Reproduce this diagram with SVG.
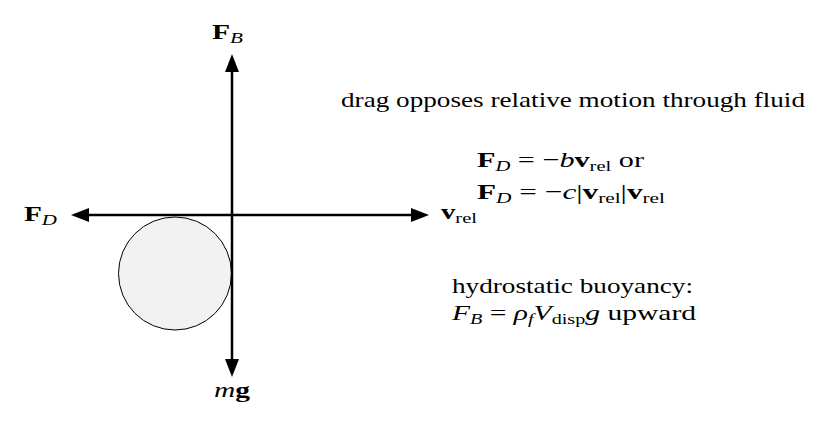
<svg xmlns="http://www.w3.org/2000/svg" width="828" height="429" viewBox="0 0 828 429">
<style>
text{font-family:"Liberation Serif","DejaVu Serif",serif;fill:#000}
.lbl{font-size:21px}
.body{font-size:22px}
.b{font-weight:bold;font-style:normal}
.i{font-style:italic}
.sub{font-size:15px}
.axis{stroke:#000;stroke-width:2.5;fill:none}
</style>
<defs>
<marker id="ah" markerUnits="userSpaceOnUse" markerWidth="20" markerHeight="16" viewBox="0 -8 18 16" refX="0" refY="0" orient="auto-start-reverse">
<path d="M0,-7 L18,0 L0,7 z" fill="#000"/>
</marker>
</defs>
<rect width="828" height="429" fill="#fff"/>
<g id="body">
<circle cx="175" cy="273.5" r="56.5" fill="#f2f2f2" stroke="#000" stroke-width="1"/>
</g>
<g id="connectors">
<line class="axis" x1="89" y1="215" x2="411" y2="215" marker-start="url(#ah)" marker-end="url(#ah)"/>
<line class="axis" x1="232" y1="72" x2="232" y2="359" marker-start="url(#ah)" marker-end="url(#ah)"/>
</g>
<g id="label-FB">
<text class="lbl" x="212" y="39" textLength="31" lengthAdjust="spacingAndGlyphs"><tspan class="b">F</tspan><tspan class="i sub" dy="4">B</tspan></text>
</g>
<g id="label-FD">
<text class="lbl" x="24" y="221" textLength="33" lengthAdjust="spacingAndGlyphs"><tspan class="b">F</tspan><tspan class="i sub" dy="4">D</tspan></text>
</g>
<g id="label-vrel">
<text class="lbl" x="441" y="219" textLength="36" lengthAdjust="spacingAndGlyphs"><tspan class="b">v</tspan><tspan class="sub" dy="4">rel</tspan></text>
</g>
<g id="label-mg">
<text class="lbl" x="214" y="397" textLength="36" lengthAdjust="spacingAndGlyphs"><tspan class="i">m</tspan><tspan class="b">g</tspan></text>
</g>
<g id="note-drag">
<text class="body" x="341" y="107" textLength="464" lengthAdjust="spacingAndGlyphs">drag opposes relative motion through fluid</text>
<text class="body" x="477" y="167" textLength="167" lengthAdjust="spacingAndGlyphs"><tspan class="b">F</tspan><tspan class="i sub" dy="4">D</tspan><tspan dy="-4"> = −</tspan><tspan class="i">b</tspan><tspan class="b">v</tspan><tspan class="sub" dy="4">rel</tspan><tspan dy="-4"> or</tspan></text>
<text class="body" x="477" y="199" textLength="188" lengthAdjust="spacingAndGlyphs"><tspan class="b">F</tspan><tspan class="i sub" dy="4">D</tspan><tspan dy="-4"> = −</tspan><tspan class="i">c</tspan><tspan>|</tspan><tspan class="b">v</tspan><tspan class="sub" dy="4">rel</tspan><tspan dy="-4">|</tspan><tspan class="b">v</tspan><tspan class="sub" dy="4">rel</tspan></text>
</g>
<g id="note-buoyancy">
<text class="body" x="452" y="293" textLength="241" lengthAdjust="spacingAndGlyphs">hydrostatic buoyancy:</text>
<text class="body" x="452" y="320" textLength="244" lengthAdjust="spacingAndGlyphs"><tspan class="i">F</tspan><tspan class="i sub" dy="4">B</tspan><tspan dy="-4"> = </tspan><tspan class="i">ρ</tspan><tspan class="i sub" dy="4">f</tspan><tspan class="i" dy="-4">V</tspan><tspan class="sub" dy="4">disp</tspan><tspan class="i" dy="-4">g</tspan><tspan> upward</tspan></text>
</g>
</svg>
